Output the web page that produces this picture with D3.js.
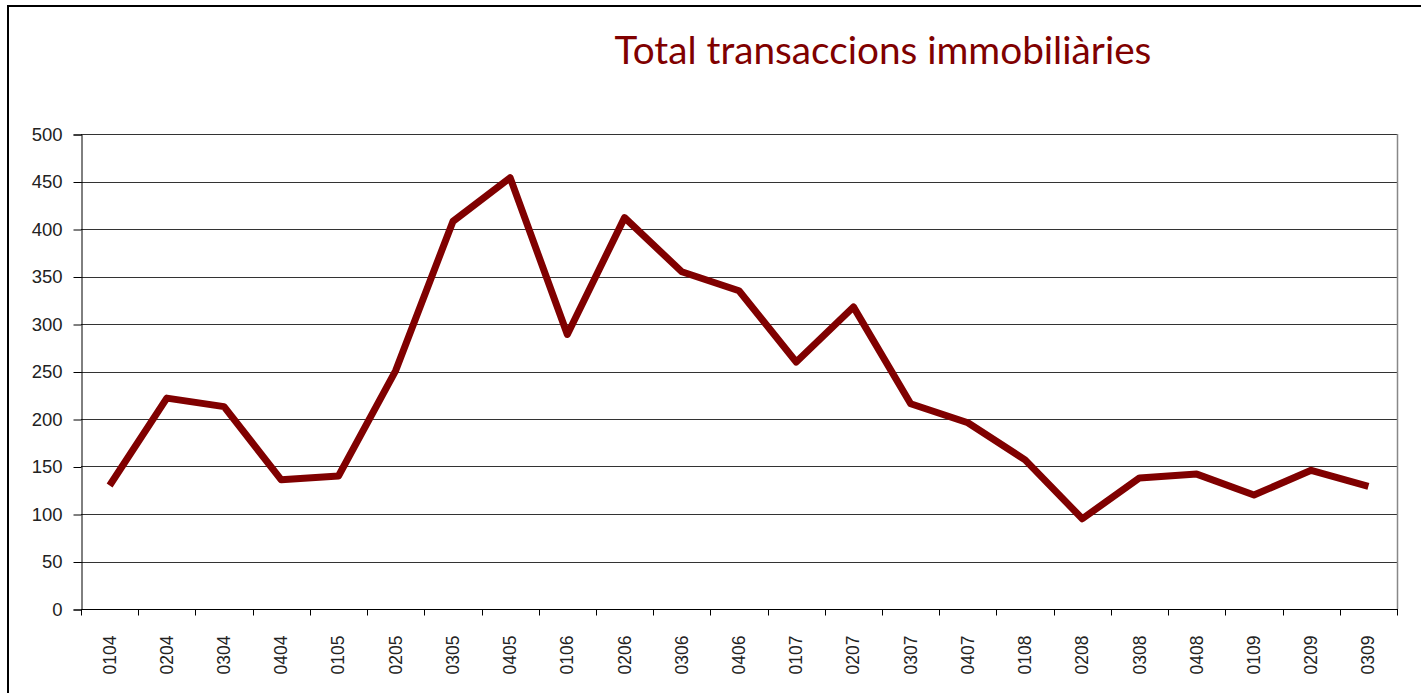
<!DOCTYPE html>
<html>
<head>
<meta charset="utf-8">
<script src="https://cdn.jsdelivr.net/npm/d3@7"></script>
<style>
html,body{margin:0;padding:0;background:#fff;overflow:hidden;}
svg{display:block;}
</style>
</head>
<body>
<svg id="chart" width="1421" height="693"></svg>
<script>
const categories = ["0104","0204","0304","0404","0105","0205","0305","0405","0106","0206","0306","0406","0107","0207","0307","0407","0108","0208","0308","0408","0109","0209","0309"];
const values = [130,222,213,136,140,251,408,454,289,412,355,335,260,318,216,196,157,95,138,142,120,146,129];
const yTicks = [0,50,100,150,200,250,300,350,400,450,500];
const title = "Total transaccions immobiliàries";

const svg = d3.select("#chart");
const pLeft = 81, pRight = 1397, pTop = 134, pBottom = 609;

// outer frame
svg.append("rect").attr("x",8).attr("y",6).attr("width",1430).attr("height",720)
  .attr("fill","none").attr("stroke","#000").attr("stroke-width",2);

const x = d3.scaleBand().domain(categories).range([pLeft,pRight]).padding(0);
const y = d3.scaleLinear().domain([0,500]).range([pBottom,pTop]);

// gridlines
svg.append("g").selectAll("line").data(yTicks.filter(d=>d>0)).join("line")
  .attr("x1",pLeft).attr("x2",pRight)
  .attr("y1",d=>Math.round(y(d))+0.5).attr("y2",d=>Math.round(y(d))+0.5)
  .attr("stroke","#333").attr("stroke-width",1);

// right border of plot
svg.append("line").attr("x1",pRight+0.5).attr("x2",pRight+0.5).attr("y1",pTop).attr("y2",pBottom)
  .attr("stroke","#888").attr("stroke-width",1.5);

// y axis
const yAxis = d3.axisLeft(y).tickValues(yTicks).tickSize(8).tickPadding(11);
const gy = svg.append("g").attr("transform",`translate(${pLeft+0.5},0.5)`).call(yAxis);
gy.select(".domain").attr("stroke","#000");
gy.selectAll(".tick line").attr("stroke","#000");
gy.selectAll(".tick text").attr("font-family","Liberation Sans, Arial, sans-serif")
  .attr("font-size",18.5).attr("fill","#222");

// x axis ticks at band boundaries
const gx = svg.append("g").attr("transform",`translate(0,${pBottom+0.5})`);
gx.append("line").attr("x1",pLeft).attr("x2",pRight+1).attr("stroke","#000");
const boundaries = categories.map(c=>x(c)).concat([pRight]);
gx.selectAll("line.tk").data(boundaries).join("line").attr("class","tk")
  .attr("x1",d=>Math.round(d)+0.5).attr("x2",d=>Math.round(d)+0.5)
  .attr("y1",0).attr("y2",6).attr("stroke","#000");
gx.selectAll("text").data(categories).join("text")
  .attr("transform",d=>`translate(${x(d)+x.bandwidth()/2+6},${26}) rotate(-90)`)
  .attr("text-anchor","end")
  .attr("font-family","Liberation Sans, Arial, sans-serif")
  .attr("font-size",17.5).attr("fill","#222")
  .text(d=>d);

// line
const line = d3.line().x((d,i)=>x(categories[i])+x.bandwidth()/2).y(d=>y(d));
svg.append("path").datum(values).attr("d",line)
  .attr("fill","none").attr("stroke","#800000").attr("stroke-width",7)
  .attr("stroke-linejoin","round").attr("stroke-linecap","butt");

// title
const t = svg.append("text").attr("x",883).attr("y",64).attr("text-anchor","middle")
  .attr("font-family","Lato, 'Open Sans', sans-serif").attr("font-size",36)
  .attr("fill","#800000").text(title);
const w = t.node().getComputedTextLength();
t.attr("font-size", 36*537/w);
</script>
</body>
</html>
